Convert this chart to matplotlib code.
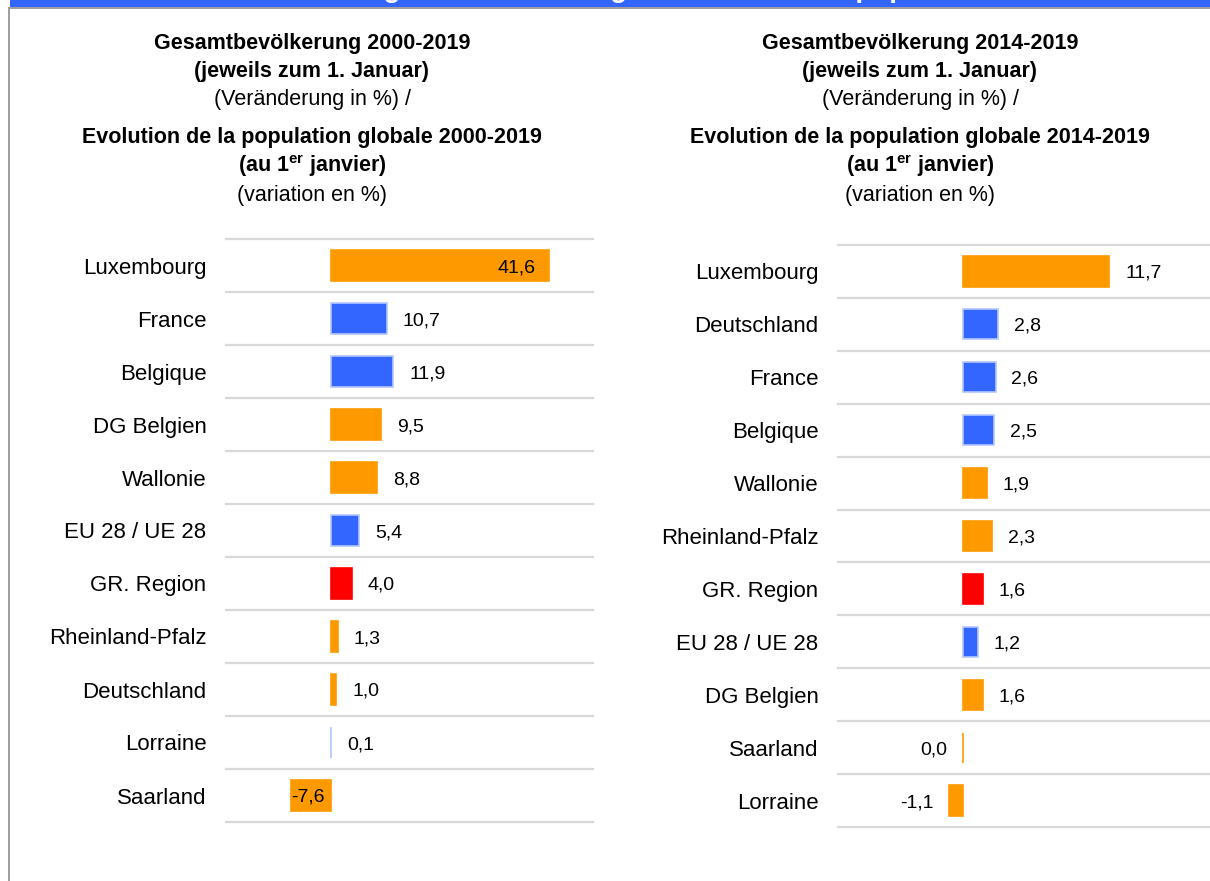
import numpy as np
import matplotlib.pyplot as plt
from matplotlib.patches import Rectangle

plt.rcParams['font.family'] = ['Liberation Sans', 'DejaVu Sans']
plt.rcParams['mathtext.fontset'] = 'custom'
plt.rcParams['mathtext.bf'] = 'Liberation Sans:bold'
plt.rcParams['mathtext.rm'] = 'Liberation Sans'

W, H = 1210, 881

ORANGE = '#FF9900'
BLUE = '#3366FF'
RED = '#FF0000'

# Veränderung 2000-2019 (%)
regions_00 = ['Luxembourg', 'France', 'Belgique', 'DG Belgien', 'Wallonie',
              'EU 28 / UE 28', 'GR. Region', 'Rheinland-Pfalz', 'Deutschland',
              'Lorraine', 'Saarland']
change_00 = [41.6, 10.7, 11.9, 9.5, 8.8, 5.4, 4.0, 1.3, 1.0, 0.1, -7.6]
colors_00 = [ORANGE, BLUE, BLUE, ORANGE, ORANGE, BLUE, RED, ORANGE, ORANGE,
             BLUE, ORANGE]

# Veränderung 2014-2019 (%)
regions_14 = ['Luxembourg', 'Deutschland', 'France', 'Belgique', 'Wallonie',
              'Rheinland-Pfalz', 'GR. Region', 'EU 28 / UE 28', 'DG Belgien',
              'Saarland', 'Lorraine']
change_14 = [11.7, 2.8, 2.6, 2.5, 1.9, 2.3, 1.6, 1.2, 1.6, -0.0, -1.1]
colors_14 = [ORANGE, BLUE, BLUE, BLUE, ORANGE, ORANGE, RED, BLUE, ORANGE,
             ORANGE, ORANGE]

titles_00 = ['Gesamtbevölkerung 2000-2019', '(jeweils zum 1. Januar)',
             '(Veränderung in %) /', 'Evolution de la population globale 2000-2019',
             r'(au 1$^{\mathbf{er}}$ janvier)', '(variation en %)']
titles_14 = ['Gesamtbevölkerung 2014-2019', '(jeweils zum 1. Januar)',
             '(Veränderung in %) /', 'Evolution de la population globale 2014-2019',
             r'(au 1$^{\mathbf{er}}$ janvier)', '(variation en %)']
title_weights = ['bold', 'bold', 'normal', 'bold', 'bold', 'normal']
title_y = [43, 72, 99, 138, 166, 195]


def fx(px):
    return px / W


def fy(py):
    return 1 - py / H


def fmt(v):
    s = f'{v:.1f}'.replace('.', ',')
    return '0,0' if s == '-0,0' else s


def panel(fig, left, right, top, bottom, xlim, cats, vals, cols, inside, titles, cx):
    ax = fig.add_axes([fx(left), fy(bottom), fx(right - left), (bottom - top) / H])
    n = len(cats)
    y = np.arange(n)
    edges = ['#B3C6FF' if c == BLUE else c for c in cols]
    ax.barh(y, vals, height=0.57, color=cols, edgecolor=edges, linewidth=1.2, zorder=3)
    ax.set_xlim(xlim)
    ax.set_ylim(n - 0.5, -0.5)
    for i in range(n + 1):
        ax.axhline(i - 0.5, color='#D9D9D9', lw=1.6, clip_on=False, zorder=1)
    for s in ax.spines.values():
        s.set_visible(False)
    ax.set_xticks([])
    ax.set_yticks(y)
    ax.set_yticklabels(cats, fontsize=16)
    ax.tick_params(axis='y', length=0, pad=14)
    for i, v in enumerate(vals):
        neg = np.signbit(v)
        if i in inside:
            ha, off = ('left', 0) if neg else ('right', -10)
        else:
            ha, off = ('right', -11.5) if neg else ('left', 11.5)
        ax.annotate(fmt(v), (v, i), xytext=(off, 0), textcoords='offset points',
                    ha=ha, va='center_baseline', fontsize=14, zorder=4)
    for t, w, ty in zip(titles, title_weights, title_y):
        fig.text(fx(cx), fy(ty), t, ha='center', va='center', fontsize=15.5,
                 fontweight=w)
    return ax


fig = plt.figure(figsize=(W / 100, H / 100), dpi=100)

# Rahmen / Kopfband
fig.add_artist(Rectangle((fx(10), fy(7)), fx(W - 10), 7 / H, transform=fig.transFigure,
                         facecolor=BLUE, edgecolor='none'))
fig.add_artist(Rectangle((fx(8), fy(9)), fx(W - 8), 2 / H, transform=fig.transFigure,
                         facecolor='#A0A0A0', edgecolor='none'))
fig.add_artist(Rectangle((fx(8), 0), fx(2), fy(7), transform=fig.transFigure,
                         facecolor='#A0A0A0', edgecolor='none'))
fig.text(fx(617), 1 + 3 / H, 'Entwicklung der Bevölkerung / Évolution de la population',
         ha='center', va='baseline', fontsize=20, fontweight='bold', color='white')

panel(fig, 226, 593, 239, 822, (-20, 50), regions_00, change_00, colors_00,
      {0, 10}, titles_00, 312)
panel(fig, 838, 1213, 245, 827, (-10, 20), regions_14, change_14, colors_14,
      set(), titles_14, 920)

fig.savefig('out.png', dpi=100)
